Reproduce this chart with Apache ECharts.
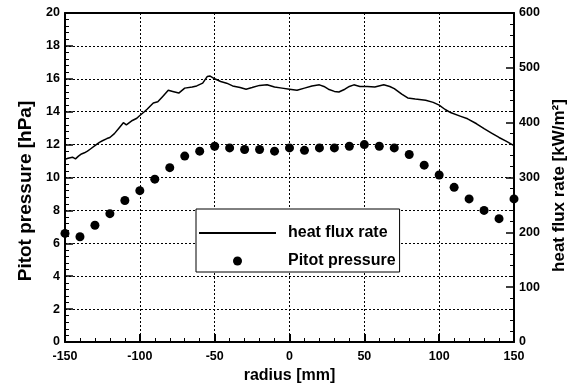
<!DOCTYPE html>
<html>
<head>
<meta charset="utf-8">
<script src="https://cdn.jsdelivr.net/npm/echarts@6/dist/echarts.min.js"></script>
<style>
html,body{margin:0;padding:0;background:#fff;}
#chart{width:570px;height:383px;}
</style>
</head>
<body>
<div id="chart"></div>
<script>
// Pitot pressure [hPa] at radius [mm]
var pitotRadius = [-150,-140,-130,-120,-110,-100,-90,-80,-70,-60,-50,-40,-30,-20,-10,0,10,20,30,40,50,60,70,80,90,100,110,120,130,140,150];
var pitotPressure = [6.6,6.4,7.1,7.8,8.6,9.2,9.9,10.6,11.3,11.6,11.9,11.8,11.7,11.7,11.6,11.8,11.65,11.8,11.8,11.9,12.0,11.9,11.8,11.4,10.75,10.15,9.4,8.7,8.0,7.5,8.7];
// heat flux rate [kW/m2] at radius [mm]
var fluxRadius = [-150,-148,-147,-145,-143,-141,-139,-137,-135,-133,-130,-127,-125,-122,-120,-117,-114,-111,-109,-108,-105,-102,-100,-97,-95,-91,-88,-85,-81,-78,-74,-70,-65,-62,-58,-55,-53,-50,-46,-42,-38,-33,-29,-25,-20,-15,-10,-5,0,5,10,15,20,23,26,30,33,37,40,43,47,52,57,63,67,70,75,79,84,91,96,100,104,108,114,119,125,130,135,140,145,150];
var fluxRate = [333,335,332,337,334,339,343,345,348,352,358,364,367,371,373,380,390,400,396,398,404,408,413,420,425,436,438,447,459,457,454,463,465,467,472,484,485,480,475,472,467,464,461,464,468,469,465,463,461,459,463,467,469,466,461,457,456,461,466,469,466,466,465,469,466,462,452,445,443,441,437,432,424,418,412,407,398,389,381,373,366,358];

var fluxData = fluxRadius.map(function(r,i){return [r, fluxRate[i]];});
var pitotData = pitotRadius.map(function(r,i){return [r, pitotPressure[i]];});

var FONT = "'Liberation Sans', Arial, sans-serif";
var labelStyle = {color:'#000', fontFamily:FONT, fontWeight:'bold', fontSize:12.5};
var gridLine = {show:true, lineStyle:{color:'#000', type:[2,2], width:1}};

var chart = echarts.init(document.getElementById('chart'));
chart.setOption({
  animation:false,
  backgroundColor:'#fff',
  grid:{left:65, right:56, top:13, bottom:41, containLabel:false, outerBoundsMode:'none'},
  xAxis:[{
    type:'value', min:-150, max:150, interval:50,
    name:'radius [mm]', nameLocation:'middle', nameGap:20,
    nameTextStyle:{color:'#000', fontFamily:FONT, fontWeight:'bold', fontSize:16},
    axisLine:{show:true, onZero:false, lineStyle:{color:'#000', width:2}},
    axisTick:{show:true, inside:true, length:8, lineStyle:{color:'#000', width:2}},
    minorTick:{show:true, splitNumber:5, length:4, lineStyle:{color:'#000', width:1}},
    axisLabel:Object.assign({margin:8}, labelStyle),
    splitLine:gridLine
  },{
    type:'value', min:-150, max:150, interval:50, position:'top',
    axisLine:{show:true, onZero:false, lineStyle:{color:'#000', width:2}},
    axisTick:{show:false}, axisLabel:{show:false}, splitLine:{show:false}
  }],
  yAxis:[{
    type:'value', min:0, max:20, interval:2, position:'left',
    name:'Pitot pressure [hPa]', nameLocation:'middle', nameGap:30, nameRotate:90,
    nameTextStyle:{color:'#000', fontFamily:FONT, fontWeight:'bold', fontSize:19, padding:[0,27,0,0]},
    axisLine:{show:true, onZero:false, lineStyle:{color:'#000', width:2}},
    axisTick:{show:true, inside:true, length:8, lineStyle:{color:'#000', width:1.5}},
    minorTick:{show:true, splitNumber:5, length:4, lineStyle:{color:'#000', width:1}},
    axisLabel:Object.assign({margin:5}, labelStyle),
    splitLine:gridLine
  },{
    type:'value', min:0, max:600, interval:100, position:'right',
    name:'heat flux rate [kW/m²]', nameLocation:'middle', nameGap:36, nameRotate:90,
    nameTextStyle:{color:'#000', fontFamily:FONT, fontWeight:'bold', fontSize:17, padding:[0,16,0,0]},
    axisLine:{show:true, onZero:false, lineStyle:{color:'#000', width:2}},
    axisTick:{show:true, inside:true, length:8, lineStyle:{color:'#000', width:1.5}},
    minorTick:{show:true, splitNumber:5, length:4, lineStyle:{color:'#000', width:1}},
    axisLabel:Object.assign({margin:5}, labelStyle),
    splitLine:{show:false}
  }],
  legend:{
    orient:'vertical', left:196, top:209, width:200,
    backgroundColor:'#fff', borderColor:'#000', borderWidth:1,
    padding:[16,4,3,2], itemGap:12, itemWidth:77, itemHeight:9,
    textStyle:{color:'#000', fontFamily:FONT, fontWeight:'bold', fontSize:16, padding:[0,0,0,7]},
    data:[{name:'heat flux rate', itemStyle:{opacity:0}},{name:'Pitot pressure', icon:'circle'}]
  },
  series:[{
    name:'heat flux rate', type:'line', xAxisIndex:0, yAxisIndex:1,
    data:fluxData, showSymbol:false, symbol:'none',
    lineStyle:{color:'#000', width:1.5}, itemStyle:{color:'#000'}
  },{
    name:'Pitot pressure', type:'scatter', xAxisIndex:0, yAxisIndex:0,
    data:pitotData, symbol:'circle', symbolSize:9,
    itemStyle:{color:'#000', opacity:1}
  }]
});
</script>
</body>
</html>
